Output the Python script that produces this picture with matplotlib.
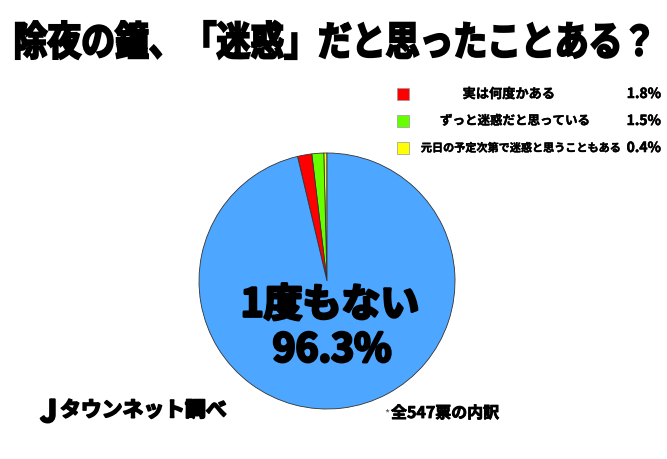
import matplotlib
matplotlib.use("Agg")
import matplotlib.pyplot as plt
from matplotlib.patches import Rectangle, PathPatch
from matplotlib.textpath import TextPath
from matplotlib.font_manager import FontProperties
from matplotlib.transforms import Affine2D
import matplotlib.patheffects as pe

plt.rcParams['font.family'] = ['Noto Sans CJK JP', 'DejaVu Sans']

# data
title = "除夜の鐘、「迷惑」だと思ったことある？"
labels = ["元日の予定次第で迷惑と思うこともある", "ずっと迷惑だと思っている", "実は何度かある", "1度もない"]
values = [0.4, 1.5, 1.8, 96.3]
colors = ["#ffff00", "#66ff00", "#ff0000", "#4da6ff"]
legend_order = [2, 1, 0]
legend_sizes = [9.5, 9, 8]

W, H = 667, 459
fig = plt.figure(figsize=(W / 100, H / 100), dpi=100)
ax = fig.add_axes([0, 0, 1, 1])

def Y(y):
    return H - y

def heavy(w=1.2):
    return [pe.withStroke(linewidth=w, foreground='black')]

# pie
ax.pie(values, colors=colors, startangle=90, counterclock=True,
       center=(327, Y(281)), radius=128,
       wedgeprops=dict(edgecolor="#333333", linewidth=0.6))
ax.set_xlim(0, W)
ax.set_ylim(0, H)
ax.set_aspect('auto')
ax.axis('off')

# title, squeezed into the box the reference uses
fp = FontProperties(family='Noto Sans CJK JP', weight='bold')
tp = TextPath((0, 0), title, size=40, prop=fp)
bb = tp.get_extents()
x0, x1, y0, y1 = 16, 648, Y(59), Y(21)
tr = Affine2D().translate(-bb.x0, -bb.y0).scale((x1 - x0) / bb.width, (y1 - y0) / bb.height).translate(x0, y0)
ax.add_patch(PathPatch(tr.transform_path(tp), facecolor='black', edgecolor='black', linewidth=1.6))

# center label
ax.text(330, Y(305), labels[3], ha='center', va='center', fontsize=28, fontweight='bold',
        path_effects=heavy(2.0))
ax.text(332, Y(350), f"{values[3]}%", ha='center', va='center', fontsize=28, fontweight='bold',
        path_effects=heavy(2.0))

# legend
for row, i in enumerate(legend_order):
    y = Y(94 + row * 27)
    ax.add_patch(Rectangle((397, y - 6), 12, 12, facecolor=colors[i], edgecolor="#999999", linewidth=0.5))
    ax.text(509 + row * 6, y, labels[i], ha='center', va='center', fontsize=legend_sizes[row],
            fontweight='bold', path_effects=heavy(0.3))
    ax.text(661, y, f"{values[i]}%", ha='right', va='center', fontsize=10, fontweight='bold',
            path_effects=heavy(0.4))

# footer
ax.text(40, Y(413), "J", ha='left', va='center', fontsize=22, fontweight='bold', path_effects=heavy(1.5))
ax.text(60, Y(410), "タウンネット調べ", ha='left', va='center', fontsize=15, fontweight='bold',
        path_effects=heavy(1.2))
ax.text(384, Y(414), "*", ha='left', va='center', fontsize=8, color="#555555")
ax.text(391, Y(413), "全547票の内訳", ha='left', va='center', fontsize=11.5, fontweight='bold',
        path_effects=heavy(0.6))

fig.savefig("out.png", dpi=100, facecolor='white')
